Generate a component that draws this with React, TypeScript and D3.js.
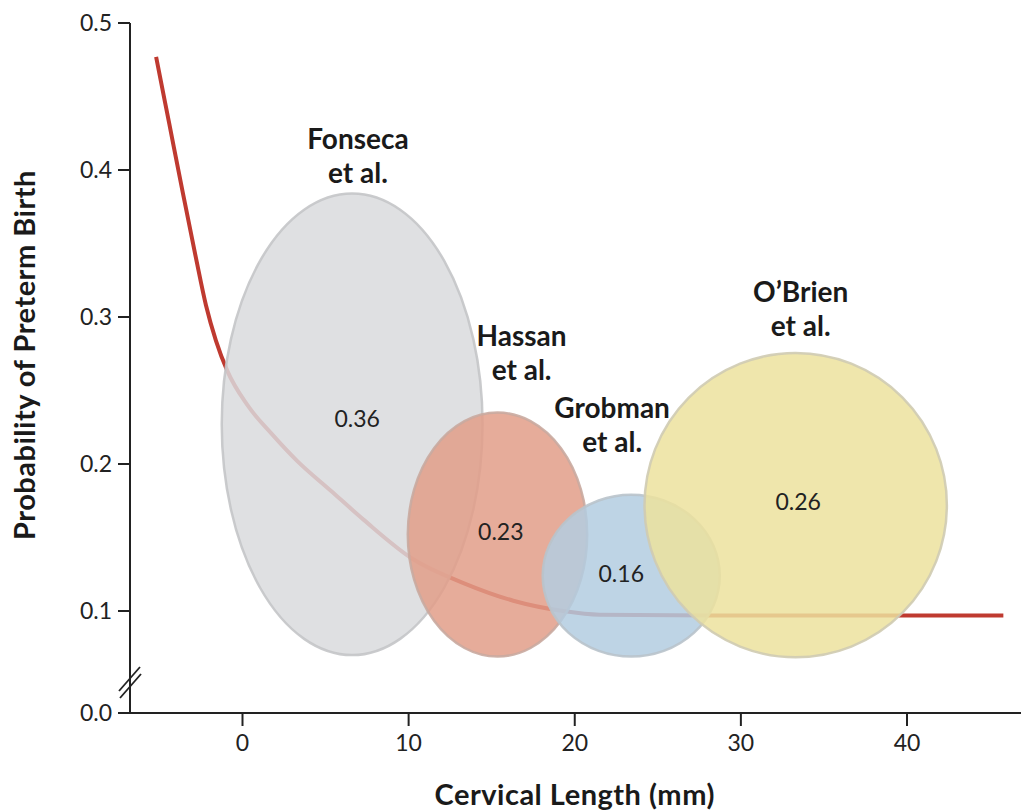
import React from "react";
import * as d3 from "d3";

// ---- data ----
const curveX = [-5.2, -4.4, -3.6, -2.8, -2.2, -1.6, -0.9, 0.3, 1.8, 3.3, 5.3, 7.3, 10.3, 13.3, 16.3, 19.3, 21.5, 30, 40, 45.8];
const curveY = [0.477, 0.431, 0.385, 0.34, 0.308, 0.284, 0.263, 0.24, 0.22, 0.202, 0.182, 0.162, 0.135, 0.119, 0.107, 0.1, 0.0975, 0.097, 0.097, 0.097];

const studyNames = ["Fonseca", "Hassan", "Grobman", "O\u2019Brien"];
const studyProb = ["0.36", "0.23", "0.16", "0.26"];
const centerX = [6.6, 15.35, 23.4, 33.3];
const centerY = [0.227, 0.152, 0.124, 0.172];
const halfW = [7.85, 5.4, 5.33, 9.1];
const halfH = [0.157, 0.083, 0.055, 0.1035];
const nameX = [6.95, 16.8, 22.25, 33.6];
const nameY = [0.414, 0.28, 0.231, 0.31];
const probX = [6.9, 15.55, 22.8, 33.45];
const probY = [0.225, 0.148, 0.1197, 0.169];
const fills = ["#d9dadd", "#e29d88", "#b3cde0", "#ece29d"];
const strokes = ["#c4c5c8", "#c9aaa0", "#b9c3cb", "#cfcbb2"];

const xTicks = [0, 10, 20, 30, 40];
const yTicks = [0.1, 0.2, 0.3, 0.4, 0.5];
const yBreakLabel = "0.0";

const W = 1021;
const H = 812;
const axisLeft = 130;
const axisBottom = 713;
const axisRight = 1021;

const FONT = "Lato, 'Open Sans', sans-serif";

export default function App() {
  const x = d3.scaleLinear().domain([0, 40]).range([242.5, 907]);
  const y = d3.scaleLinear().domain([0.1, 0.5]).range([611, 23]);
  const pts: [number, number][] = curveX.map((v, i) => [v, curveY[i]]);
  const line = d3
    .line<[number, number]>()
    .x((d) => x(d[0]))
    .y((d) => y(d[1]))
    .curve(d3.curveMonotoneX);

  return (
    <div style={{ position: "absolute", left: 0, top: 0 }}>
      <svg width={W} height={H} style={{ display: "block", background: "#fff" }}>
        {/* curve */}
        <path d={line(pts) || ""} fill="none" stroke="#bf3a30" strokeWidth={4} />
        {/* ellipses */}
        {studyNames.map((n, i) => (
          <ellipse
            key={n}
            cx={x(centerX[i])}
            cy={y(centerY[i])}
            rx={x(centerX[i] + halfW[i]) - x(centerX[i])}
            ry={y(centerY[i] - halfH[i]) - y(centerY[i])}
            fill={fills[i]}
            fillOpacity={0.85}
            stroke={strokes[i]}
            strokeOpacity={0.9}
            strokeWidth={2.5}
          />
        ))}
        {/* value labels */}
        {studyProb.map((p, i) => (
          <text
            key={"p" + i}
            x={x(probX[i])}
            y={y(probY[i])}
            textAnchor="middle"
            fontFamily={FONT}
            fontSize={23}
            fill="#222"
          >
            {p}
          </text>
        ))}
        {/* study names */}
        {studyNames.map((n, i) => (
          <text
            key={"n" + i}
            x={x(nameX[i])}
            y={y(nameY[i])}
            textAnchor="middle"
            fontFamily={FONT}
            fontWeight="bold"
            fontSize={28}
            fill="#1a1a1a"
          >
            <tspan x={x(nameX[i])}>{n}</tspan>
            <tspan x={x(nameX[i])} dy={34}>
              et al.
            </tspan>
          </text>
        ))}
        {/* axes */}
        <line x1={axisLeft} x2={axisLeft} y1={y(0.5)} y2={axisBottom} stroke="#222" strokeWidth={2} />
        <line x1={axisLeft} x2={axisRight} y1={axisBottom} y2={axisBottom} stroke="#222" strokeWidth={2} />
        {/* break marks */}
        <line x1={axisLeft - 11} y1={axisBottom - 22} x2={axisLeft + 10} y2={axisBottom - 46} stroke="#222" strokeWidth={1.8} />
        <line x1={axisLeft - 10} y1={axisBottom - 15} x2={axisLeft + 11} y2={axisBottom - 39} stroke="#222" strokeWidth={1.8} />
        {yTicks.map((t) => (
          <g key={"y" + t}>
            <line x1={axisLeft - 12} x2={axisLeft} y1={y(t)} y2={y(t)} stroke="#222" strokeWidth={2} />
            <text x={axisLeft - 18} y={y(t) + 8} textAnchor="end" fontFamily={FONT} fontSize={23} fill="#222">
              {t.toFixed(1)}
            </text>
          </g>
        ))}
        <line x1={axisLeft - 12} x2={axisLeft} y1={axisBottom} y2={axisBottom} stroke="#222" strokeWidth={2} />
        <text x={axisLeft - 18} y={axisBottom + 8} textAnchor="end" fontFamily={FONT} fontSize={23} fill="#222">
          {yBreakLabel}
        </text>
        {xTicks.map((t) => (
          <g key={"x" + t}>
            <line x1={x(t)} x2={x(t)} y1={axisBottom} y2={axisBottom + 13} stroke="#222" strokeWidth={2} />
            <text x={x(t)} y={axisBottom + 38} textAnchor="middle" fontFamily={FONT} fontSize={23} fill="#222">
              {t}
            </text>
          </g>
        ))}
        {/* axis titles */}
        <text
          x={x(20)}
          y={805}
          textAnchor="middle"
          fontFamily={FONT}
          fontWeight="bold"
          fontSize={29}
          letterSpacing={0.5}
          fill="#1a1a1a"
        >
          Cervical Length (mm)
        </text>
        <text
          transform={`translate(35, 355) rotate(-90)`}
          textAnchor="middle"
          fontFamily={FONT}
          fontWeight="bold"
          fontSize={29}
          letterSpacing={0.5}
          fill="#1a1a1a"
        >
          Probability of Preterm Birth
        </text>
      </svg>
    </div>
  );
}
